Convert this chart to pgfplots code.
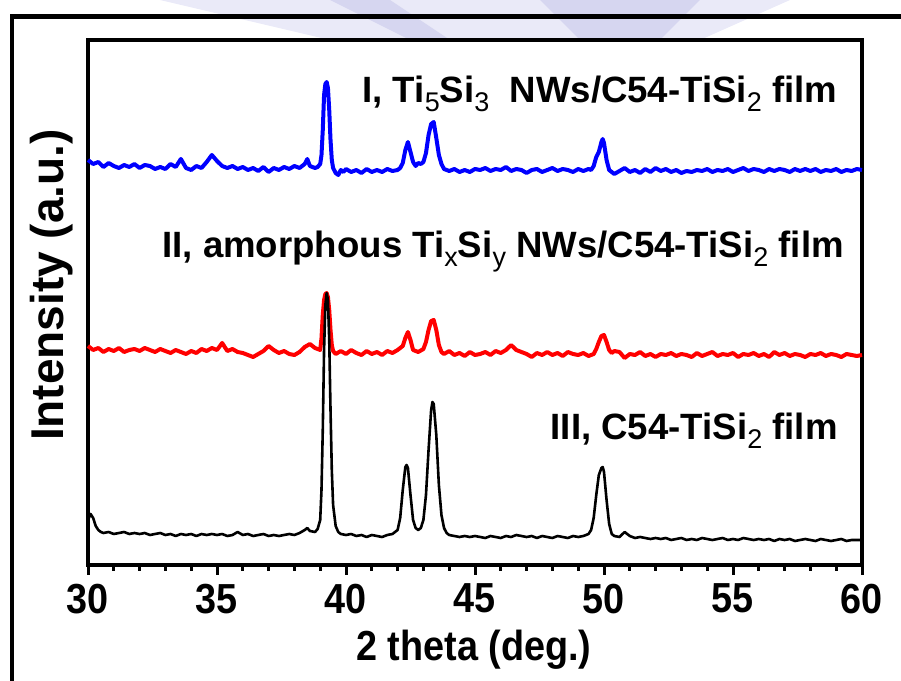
\documentclass[border=0pt]{standalone}
\usepackage{fontspec}
\setmainfont{Liberation Sans}
\newfontfamily\narrowfont{Liberation Sans}[FakeStretch=0.9]
\usepackage{pgfplots}
\pgfplotsset{compat=1.18}
\newcommand\sub[1]{\raisebox{-0.45ex}{\fontsize{13.5}{14}\selectfont\mdseries #1}}
\begin{document}
\begin{tikzpicture}
\fill[fill={rgb,255:red,234;green,234;blue,248}] (80pt,340.5pt) -- (395pt,340.5pt) -- (350pt,320.5pt) -- (165pt,320.5pt) -- cycle;
\fill[fill={rgb,255:red,214;green,214;blue,240}] (165pt,340.5pt) -- (195pt,340.5pt) -- (225pt,320.5pt) -- (205pt,320.5pt) -- cycle;
\fill[fill={rgb,255:red,214;green,214;blue,240}] (270pt,340.5pt) -- (350pt,340.5pt) -- (330pt,320.5pt) -- (290pt,320.5pt) -- cycle;
\draw[line width=2.2pt] (6pt,-20pt) rectangle (470pt,332.25pt);
\begin{axis}[at={(44pt,58pt)}, anchor=south west, scale only axis,
  width=387pt, height=262.5pt,
  xmin=30, xmax=60, ymin=35, ymax=560,
  axis line style={line width=2pt},
  xtick={30,35,...,60}, minor x tick num=4, ytick=\empty,
  xtick pos=left, tick align=outside,
  major tick length=5pt, minor tick length=3pt,
  every tick/.style={black, line width=1.5pt},
  /pgf/number format/assume math mode=true,
  xticklabel style={font=\narrowfont\bfseries\fontsize{21}{21}\selectfont, yshift=-1pt},
  clip=false]
\addplot[blue, line width=2pt, line join=round] coordinates {
(30.0,440)(30.2,436)(30.4,438)(30.6,433)(30.8,437)(31.0,434)(31.2,432)(31.4,435)(31.6,433)(31.8,436)
(32.0,432)(32.2,435)(32.4,434)(32.6,431)(32.8,433)(33.0,431)(33.2,436)(33.4,433)(33.6,441)(33.8,432)
(34.0,430)(34.2,434)(34.4,432)(34.6,438)(34.8,445)(35.0,439)(35.2,434)(35.4,432)(35.6,434)(35.8,431)
(36.0,433)(36.2,430)(36.4,432)(36.6,429)(36.8,433)(37.0,428)(37.2,432)(37.4,430)(37.6,433)(37.8,431)
(38.0,434)(38.2,432)(38.4,436)(38.5,441)(38.6,434)(38.8,432)(38.9,433)(39.0,436)(39.05,445)(39.1,470)
(39.15,505)(39.2,516)(39.25,518)(39.3,512)(39.35,490)(39.4,460)(39.45,440)(39.5,432)(39.6,427)(39.7,425)
(39.8,430)(39.9,428)(40.0,431)(40.2,428)(40.4,430)(40.6,427)(40.8,431)(41.0,428)(41.2,430)(41.4,428)
(41.6,431)(41.8,429)(42.0,430)(42.1,432)(42.2,437)(42.3,450)(42.4,458)(42.5,448)(42.6,438)(42.7,434)
(42.8,437)(42.9,436)(43.0,438)(43.1,447)(43.2,465)(43.3,476)(43.4,478)(43.5,462)(43.6,445)(43.7,436)
(43.8,431)(44.0,429)(44.2,431)(44.4,428)(44.6,430)(44.8,428)(45.0,431)(45.2,430)(45.4,432)(45.6,429)
(45.8,431)(46.0,430)(46.2,433)(46.4,429)(46.6,431)(46.8,430)(47.0,427)(47.2,430)(47.4,431)(47.6,428)
(47.8,430)(48.0,432)(48.2,429)(48.4,431)(48.6,430)(48.8,428)(49.0,431)(49.2,429)(49.4,431)(49.5,430)
(49.6,434)(49.7,443)(49.8,448)(49.9,458)(49.95,461)(50.0,457)(50.1,440)(50.2,430)(50.3,428)(50.4,426)
(50.6,429)(50.8,432)(51.0,428)(51.2,430)(51.4,427)(51.6,431)(51.8,428)(52.0,432)(52.2,429)(52.4,431)
(52.6,428)(52.8,430)(53.0,427)(53.2,429)(53.4,428)(53.6,430)(53.8,429)(54.0,431)(54.2,428)(54.4,430)
(54.6,429)(54.8,431)(55.0,428)(55.2,430)(55.4,432)(55.6,429)(55.8,431)(56.0,430)(56.2,428)(56.4,431)
(56.6,429)(56.8,431)(57.0,430)(57.2,428)(57.4,431)(57.6,429)(57.8,431)(58.0,429)(58.2,431)(58.4,428)
(58.6,430)(58.8,429)(59.0,431)(59.2,428)(59.4,430)(59.6,429)(59.8,431)(60.0,430)
};
\addplot[red, line width=2pt, line join=round] coordinates {
(30.0,254)(30.2,250)(30.4,252)(30.6,248)(30.8,251)(31.0,249)(31.2,252)(31.4,248)(31.6,250)(31.8,251)
(32.0,249)(32.2,252)(32.4,250)(32.6,248)(32.8,251)(33.0,249)(33.2,247)(33.4,250)(33.6,248)(33.8,246)
(34.0,249)(34.2,247)(34.4,251)(34.6,249)(34.8,252)(35.0,250)(35.2,257)(35.4,249)(35.6,251)(35.8,248)
(36.0,247)(36.2,245)(36.4,243)(36.6,246)(36.8,249)(37.0,254)(37.2,250)(37.4,247)(37.6,249)(37.8,246)
(38.0,245)(38.2,248)(38.4,253)(38.6,256)(38.8,252)(39.0,250)(39.05,262)(39.1,285)(39.15,300)(39.2,306)
(39.25,307)(39.3,303)(39.35,290)(39.4,270)(39.45,255)(39.5,249)(39.6,246)(39.8,249)(40.0,246)(40.2,250)
(40.4,247)(40.6,245)(40.8,249)(41.0,246)(41.2,248)(41.4,245)(41.6,249)(41.8,247)(42.0,250)(42.2,254)
(42.3,262)(42.4,268)(42.5,260)(42.6,250)(42.8,248)(43.0,251)(43.1,258)(43.2,270)(43.3,279)(43.4,280)
(43.5,270)(43.6,255)(43.7,248)(43.8,246)(44.0,249)(44.2,245)(44.4,247)(44.6,244)(44.8,248)(45.0,245)
(45.2,246)(45.4,248)(45.6,245)(45.8,249)(46.0,247)(46.2,250)(46.4,255)(46.6,250)(46.8,248)(47.0,246)
(47.2,243)(47.4,247)(47.6,245)(47.8,248)(48.0,245)(48.2,247)(48.4,244)(48.6,248)(48.8,246)(49.0,245)
(49.2,247)(49.4,244)(49.6,246)(49.7,251)(49.8,258)(49.9,264)(50.0,265)(50.1,258)(50.2,250)(50.3,247)
(50.4,249)(50.6,248)(50.8,242)(51.0,246)(51.2,245)(51.4,248)(51.6,244)(51.8,246)(52.0,243)(52.2,246)
(52.4,245)(52.6,247)(52.8,244)(53.0,246)(53.2,245)(53.4,243)(53.6,247)(53.8,244)(54.0,246)(54.2,248)
(54.4,244)(54.6,246)(54.8,245)(55.0,247)(55.2,243)(55.4,246)(55.6,245)(55.8,247)(56.0,244)(56.2,246)
(56.4,243)(56.6,248)(56.8,245)(57.0,247)(57.2,244)(57.4,246)(57.6,245)(57.8,243)(58.0,246)(58.2,245)
(58.4,247)(58.6,244)(58.8,246)(59.0,245)(59.2,243)(59.4,246)(59.6,245)(59.8,244)(60.0,245)
};
\addplot[black, line width=1.3pt, line join=round] coordinates {
(30.0,80)(30.1,86)(30.2,82)(30.3,74)(30.4,70)(30.5,68)(30.6,67)(30.8,68)(31.0,66)(31.2,67)
(31.4,68)(31.6,66)(31.8,67)(32.0,66)(32.2,67)(32.4,65)(32.6,66)(32.8,67)(33.0,65)(33.2,66)
(33.4,64)(33.6,66)(33.8,65)(34.0,66)(34.2,64)(34.4,66)(34.6,65)(34.8,66)(35.0,65)(35.2,66)
(35.4,64)(35.6,65)(35.8,68)(36.0,65)(36.2,66)(36.4,64)(36.6,65)(36.8,66)(37.0,64)(37.2,65)
(37.4,64)(37.6,65)(37.8,66)(38.0,65)(38.2,67)(38.4,70)(38.5,72)(38.6,69)(38.8,68)(38.9,71)
(39.0,80)(39.05,110)(39.1,170)(39.15,250)(39.2,295)(39.25,307)(39.3,300)(39.35,260)(39.4,190)(39.45,130)
(39.5,95)(39.6,74)(39.7,68)(39.8,66)(40.0,65)(40.2,66)(40.4,64)(40.6,65)(40.8,63)(41.0,65)
(41.2,64)(41.4,63)(41.6,65)(41.8,66)(42.0,70)(42.1,82)(42.2,110)(42.3,133)(42.35,135)(42.4,132)
(42.5,105)(42.6,80)(42.7,72)(42.8,70)(42.9,72)(43.0,80)(43.1,105)(43.2,150)(43.3,190)(43.35,198)
(43.4,196)(43.5,165)(43.6,115)(43.7,85)(43.8,72)(43.9,67)(44.0,65)(44.2,64)(44.4,63)(44.6,64)
(44.8,63)(45.0,64)(45.2,63)(45.4,62)(45.6,64)(45.8,63)(46.0,62)(46.2,64)(46.4,63)(46.6,65)
(46.8,64)(47.0,63)(47.2,64)(47.4,62)(47.6,64)(47.8,63)(48.0,62)(48.2,64)(48.4,63)(48.6,62)
(48.8,64)(49.0,63)(49.2,64)(49.4,66)(49.5,70)(49.6,82)(49.7,105)(49.8,125)(49.9,132)(49.95,133)
(50.0,128)(50.1,100)(50.2,76)(50.3,66)(50.4,64)(50.6,63)(50.8,68)(51.0,64)(51.2,62)(51.4,63)
(51.6,62)(51.8,61)(52.0,62)(52.2,61)(52.4,62)(52.6,60)(52.8,61)(53.0,62)(53.2,60)(53.4,61)
(53.6,60)(53.8,62)(54.0,61)(54.2,60)(54.4,61)(54.6,62)(54.8,60)(55.0,61)(55.2,60)(55.4,62)
(55.6,61)(55.8,60)(56.0,61)(56.2,60)(56.4,61)(56.6,59)(56.8,61)(57.0,60)(57.2,61)(57.4,59)
(57.6,60)(57.8,61)(58.0,60)(58.2,59)(58.4,61)(58.6,60)(58.8,59)(59.0,60)(59.2,61)(59.4,59)
(59.6,60)(59.8,60)(60.0,60)
};
\node[anchor=base west, font=\bfseries\fontsize{18.3}{18.3}\selectfont, inner sep=0pt] at (axis cs:40.62,497) {I, Ti\sub{5}Si\sub{3}\ \ NWs/C54-TiSi\sub{2} film};
\node[anchor=base west, font=\bfseries\fontsize{18.3}{18.3}\selectfont, inner sep=0pt] at (axis cs:32.87,342) {II, amorphous Ti\sub{x}Si\sub{y} NWs/C54-TiSi\sub{2} film};
\node[anchor=base east, font=\bfseries\fontsize{18.3}{18.3}\selectfont, inner sep=0pt] at (axis cs:59.07,160) {III, C54-TiSi\sub{2} film};
\end{axis}
\node[rotate=90, font=\bfseries\fontsize{23}{23}\selectfont] at (26pt,198pt) {Intensity (a.u.)};
\node[font=\narrowfont\bfseries\fontsize{21}{21}\selectfont] at (237pt,15.5pt) {2 theta (deg.)};
\pgfresetboundingbox
\useasboundingbox (0,0) rectangle (450.5pt,340.5pt);
\end{tikzpicture}
\end{document}
